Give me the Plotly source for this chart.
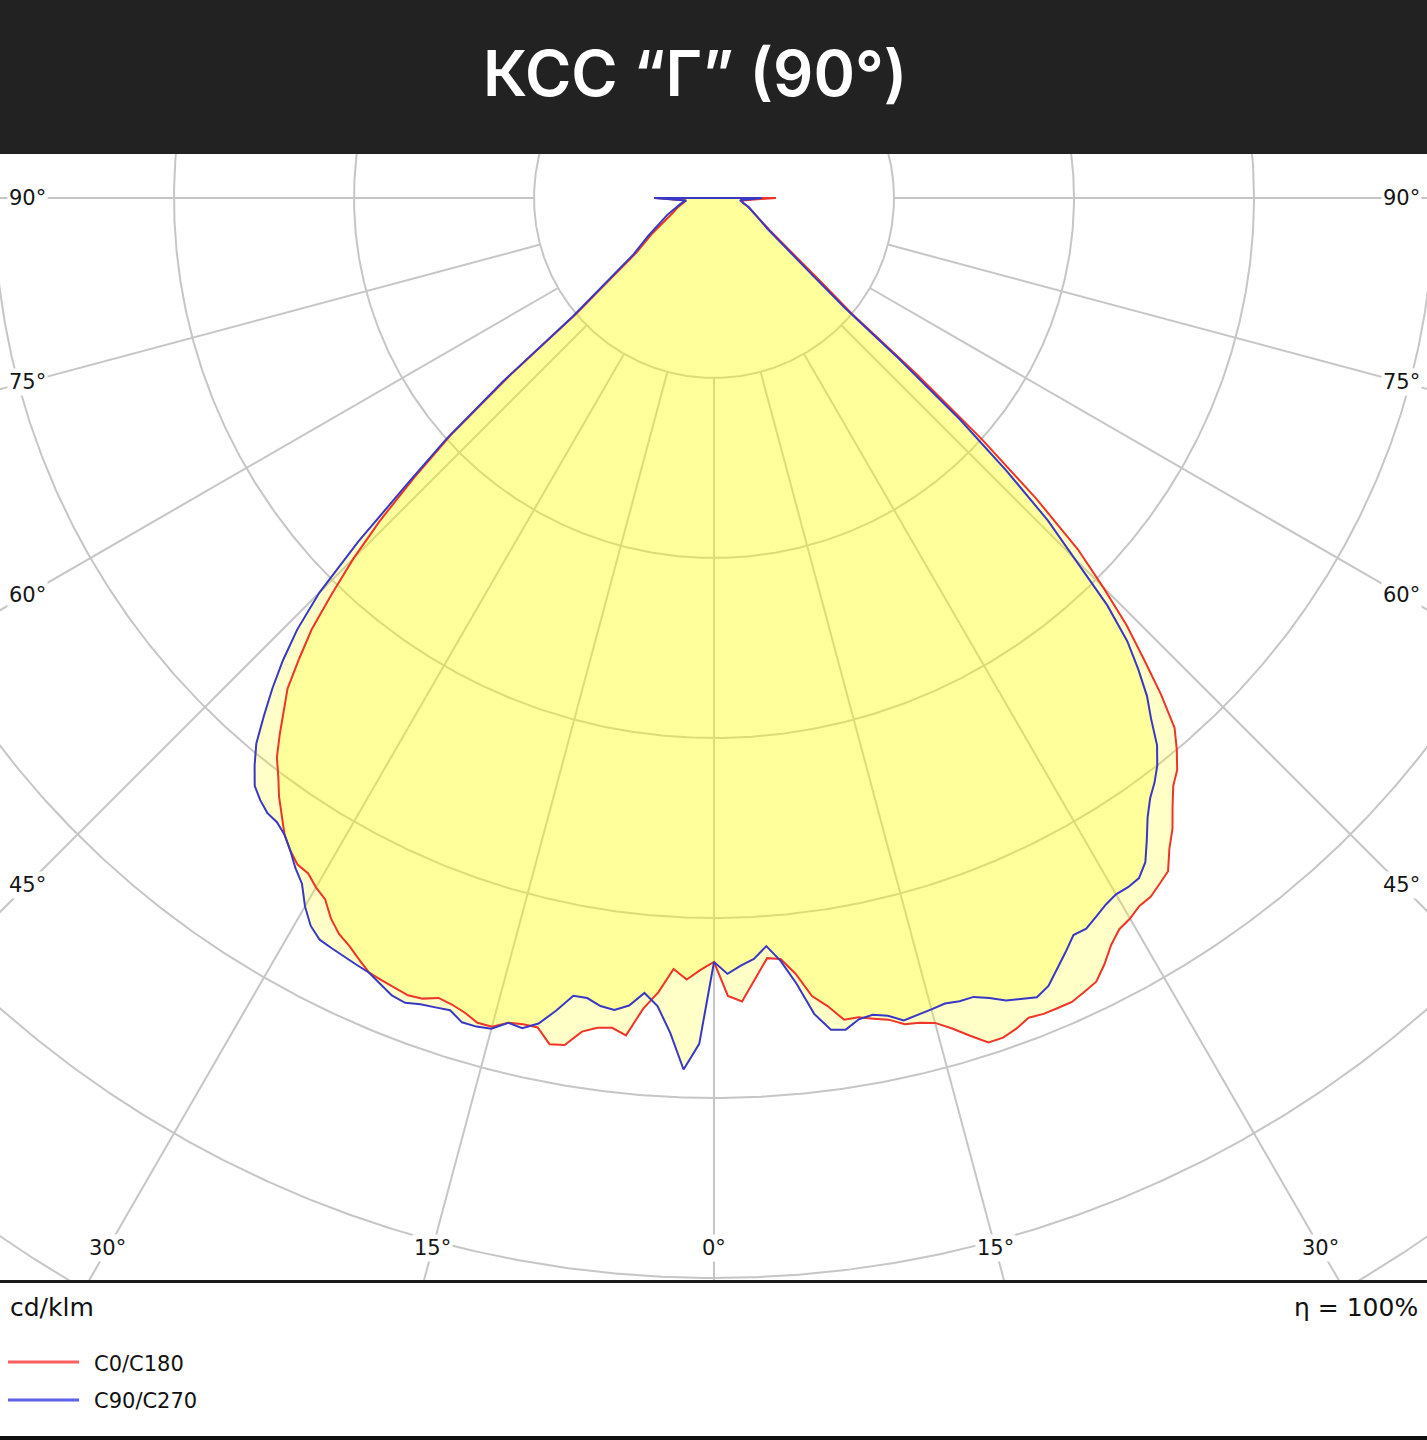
import numpy as np
import plotly.graph_objects as go

# ---------------- data (cd/klm) ----------------
gamma = list(range(0, 51)) + [52, 55, 60, 65, 70, 75, 80, 85, 90]

c0 = [382, 399, 402, 391, 381, 382, 390, 402, 408, 416,
      416, 418, 420, 424, 425, 427, 432, 438, 444, 444,
      442, 439, 440, 440, 440, 438, 436, 430, 423, 418,
      416, 413, 412, 409, 406, 397, 390, 381, 373, 368,
      360, 351, 334, 315, 297, 275, 253, 220, 180, 135,
      90,
      67, 47, 32, 25, 21, 18, 15, 14, 31]

c180 = [382, 386, 391, 386, 398, 407, 421, 418, 419, 422,
        430, 431, 424, 424, 425, 429, 429, 426, 424, 423,
        426, 427, 426, 425, 424, 420, 416, 413, 408, 401,
        398, 394, 393, 389, 384, 377, 370, 362, 355, 345,
        335, 325, 310, 295, 275, 255, 232, 205, 177, 135,
        90,
        67, 47, 36, 27, 22, 19, 16, 14, 29]

c90 = [382, 388, 384, 381, 375, 383, 395, 411, 420, 421,
       417, 416, 418, 422, 421, 420, 419, 420, 420, 423,
       427, 429, 431, 428, 422, 416, 410, 410, 407, 404,
       402, 402, 401, 396, 387, 378, 371, 366, 360, 352,
       340, 330, 317, 303, 283, 256, 232, 200, 165, 122,
       85,
       62, 45, 31, 25, 21, 18, 15, 13, 24]

c270 = [382, 423, 436, 418, 405, 399, 406, 409, 408, 405,
        405, 414, 422, 426, 425, 430, 431, 431, 427, 428,
        429, 431, 430, 427, 424, 423, 422, 421, 420, 416,
        409, 400, 395, 389, 384, 381, 380, 377, 373, 365,
        356, 343, 330, 316, 300, 279, 247, 210, 180, 140,
        92,
        69, 49, 38, 30, 25, 20, 17, 14, 30]

rings = [90, 180, 270, 360, 450, 540, 630]
spokes = [-90, -75, -60, -45, -30, -15, 0, 15, 30, 45, 60, 75, 90]
spoke_labels = ["90°", "75°", "60°", "45°", "30°", "15°", "0°", "15°", "30°", "45°", "60°", "75°", "90°"]

title_text = "КСС “Г” (90°)"
unit_text = "cd/klm"
eta_text = "η = 100%"
series_names = ["C0/C180", "C90/C270"]

# ---------------- geometry helpers ----------------
X_RANGE = [-357, 356.5]
Y_RANGE = [-541, 22]


def half_xy(values, side):
    g = np.radians(np.asarray(gamma, float))
    v = np.asarray(values, float)
    return side * v * np.sin(g), -v * np.cos(g)


def closed_curve(right, left):
    xr, yr = half_xy(right, 1)
    xl, yl = half_xy(left, -1)
    x = np.concatenate([xl[::-1], xr[1:], xl[-1:]])
    y = np.concatenate([yl[::-1], yr[1:], yl[-1:]])
    return x, y


fig = go.Figure()

# grid circles
t = np.linspace(0, 2 * np.pi, 1441)
gx, gy = [], []
for r in rings:
    gx += list(r * np.cos(t)) + [None]
    gy += list(r * np.sin(t)) + [None]
# spokes
r_in, r_out = rings[0], 900
for a in spokes:
    ar = np.radians(a)
    gx += [r_in * np.sin(ar), r_out * np.sin(ar), None]
    gy += [-r_in * np.cos(ar), -r_out * np.cos(ar), None]

fig.add_trace(go.Scatter(x=gx, y=gy, mode="lines",
                         line=dict(color="#c6c6c6", width=2),
                         hoverinfo="skip", showlegend=False))

red = "#ee3527"
blue = "#3838c4"
fill = "rgba(255,255,0,0.22)"

rx, ry = closed_curve(c0, c180)
bx, by = closed_curve(c90, c270)

fig.add_trace(go.Scatter(x=rx, y=ry, mode="lines", fill="toself", fillcolor=fill,
                         line=dict(width=0, color=red), hoverinfo="skip", showlegend=False))
fig.add_trace(go.Scatter(x=bx, y=by, mode="lines", fill="toself", fillcolor=fill,
                         line=dict(width=0, color=blue), hoverinfo="skip", showlegend=False))
fig.add_trace(go.Scatter(x=rx, y=ry, mode="lines", name=series_names[0],
                         line=dict(width=2, color=red), showlegend=False))
fig.add_trace(go.Scatter(x=bx, y=by, mode="lines", name=series_names[1],
                         line=dict(width=2, color=blue), showlegend=False))

# spoke labels (placed where each spoke meets the side / bottom label band)
side_x = 343.5
bottom_y = -525
annotations = []
for a, lab in zip(spokes, spoke_labels):
    ar = np.radians(a)
    if abs(a) < 90 and abs(np.tan(ar)) * abs(bottom_y) < side_x:
        lx = abs(bottom_y) * np.tan(ar)
        ly = bottom_y
    else:
        lx = side_x if a > 0 else -side_x
        ly = -side_x / np.tan(abs(ar)) if abs(a) < 90 else 0.0
    annotations.append(dict(x=lx, y=ly, xref="x", yref="y", text=lab, showarrow=False,
                            font=dict(family="DejaVu Sans", size=21, color="#151515"),
                            bgcolor="white", borderpad=1, xanchor="center", yanchor="middle"))

H_PLOT = 1126.0


def py(px):
    return (1280 - px) / H_PLOT


annotations += [
    dict(x=695 / 1427, y=py(73), xref="paper", yref="paper", text=title_text, showarrow=False,
         font=dict(family="Inter", size=63, color="white", weight=600),
         xanchor="center", yanchor="middle"),
    dict(x=8 / 1427, y=py(1307), xref="paper", yref="paper", text=unit_text, showarrow=False,
         font=dict(family="DejaVu Sans", size=25, color="#111"), xanchor="left", yanchor="middle"),
    dict(x=1420 / 1427, y=py(1307), xref="paper", yref="paper", text=eta_text, showarrow=False,
         font=dict(family="DejaVu Sans", size=25, color="#111"), xanchor="right", yanchor="middle"),
    dict(x=92 / 1427, y=py(1364), xref="paper", yref="paper", text=series_names[0], showarrow=False,
         font=dict(family="DejaVu Sans", size=21, color="#111"), xanchor="left", yanchor="middle"),
    dict(x=92 / 1427, y=py(1401), xref="paper", yref="paper", text=series_names[1], showarrow=False,
         font=dict(family="DejaVu Sans", size=21, color="#111"), xanchor="left", yanchor="middle"),
]

shapes = [
    dict(type="rect", xref="paper", yref="paper", x0=0, x1=1, y0=1, y1=py(0),
         fillcolor="#222222", line=dict(width=0), layer="above"),
    dict(type="line", xref="paper", yref="paper", x0=8 / 1427, x1=79 / 1427, y0=py(1362), y1=py(1362),
         line=dict(color="#ff5f5f", width=3)),
    dict(type="line", xref="paper", yref="paper", x0=8 / 1427, x1=79 / 1427, y0=py(1400), y1=py(1400),
         line=dict(color="#5f5ff0", width=3)),
    dict(type="rect", xref="paper", yref="paper", x0=0, x1=1, y0=py(1440), y1=py(1436),
         fillcolor="#111111", line=dict(width=0)),
]

fig.update_layout(
    width=1427, height=1440,
    margin=dict(l=0, r=0, t=154, b=160, pad=0),
    paper_bgcolor="white", plot_bgcolor="white",
    xaxis=dict(range=X_RANGE, showgrid=False, zeroline=False, showticklabels=False, ticks="",
               showline=True, linecolor="#1a1a1a", linewidth=3, fixedrange=True),
    yaxis=dict(range=Y_RANGE, showgrid=False, zeroline=False, showticklabels=False, ticks="",
               showline=False, fixedrange=True),
    annotations=annotations,
    shapes=shapes,
    showlegend=False,
)

fig.write_html("out.html")
